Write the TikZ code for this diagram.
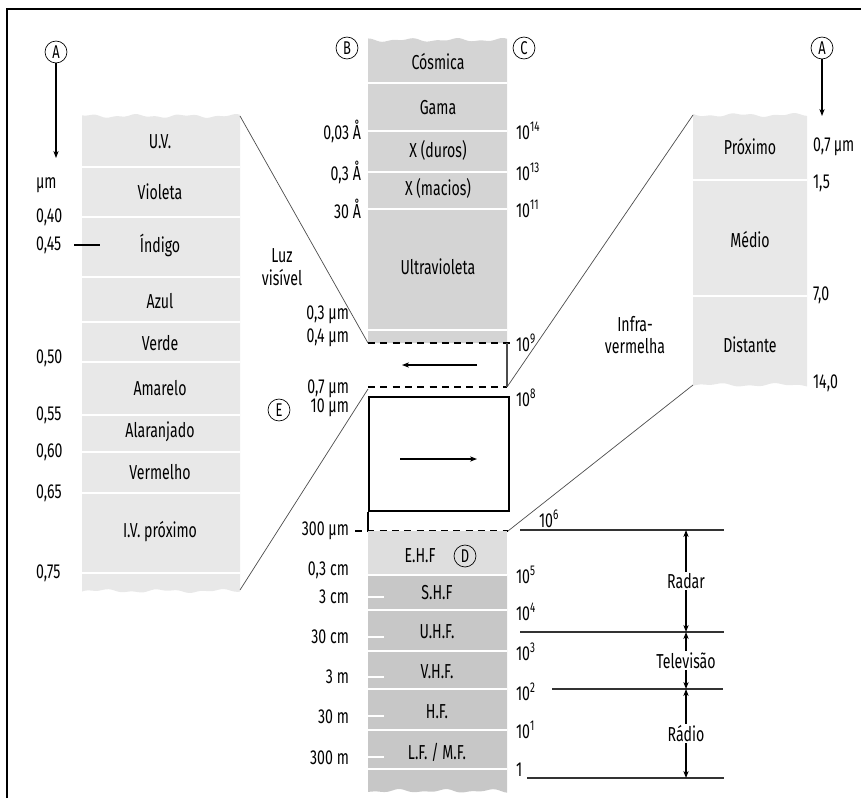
\documentclass[tikz,border=0pt]{standalone}
\usepackage{fontspec}
\setmainfont{Fira Sans}[FakeStretch=0.7]
\usepackage{xcolor}
\usetikzlibrary{arrows.meta,positioning}

\definecolor{visgray}{gray}{0.91}
\definecolor{topgray}{gray}{0.83}
\definecolor{ehfgray}{gray}{0.87}
\definecolor{radgray}{gray}{0.78}

\begin{document}
\begin{tikzpicture}[x=0.02cm, y=-0.02cm,
  lbl/.style={inner sep=1pt, font=\fontsize{11.5}{13}\selectfont},
  letter/.style={draw, circle, minimum size=12.5pt, inner sep=0pt, font=\fontsize{10.5}{11}\selectfont, fill=white},
  sepline/.style={white, line width=1pt},
  guide/.style={gray!60!black, line width=0.4pt},
  dashline/.style={dash pattern=on 4pt off 3pt, line width=0.8pt},
  rule/.style={line width=0.7pt, black!80},
  arrow/.style={-{Stealth[length=4pt, width=3pt]}, line width=0.6pt},
  dblarrow/.style={{Stealth[length=4pt, width=3pt]}-{Stealth[length=4pt, width=3pt]}, line width=0.6pt},
]
\useasboundingbox (0,0) rectangle (861,798);

% frame
\draw[line width=1.2pt] (7,798) -- (7,9) -- (861,9);

% visible light column
\fill[visgray] (82,592) -- plot[domain=82:240, samples=60] (\x,{116+1.2*sin(7.3*\x)+0.8*sin(17.9*\x)})
  -- plot[domain=240:82, samples=60] (\x,{591+1.2*sin(6.1*\x)+0.8*sin(15.7*\x)}) -- cycle;
\foreach \y in {167,217,277,322,362,415,452,493,573}
  \draw[sepline] (82,\y) -- (240,\y);

\node[lbl] (uv) at (160,142) {U.V.};
\node[lbl] (violeta) at (160,192) {Violeta};
\node[lbl] (indigo) at (160,245) {Índigo};
\node[lbl] (azul) at (160,301) {Azul};
\node[lbl] (verde) at (160,343) {Verde};
\node[lbl] (amarelo) at (160,388) {Amarelo};
\node[lbl] (alaranjado) at (160,432) {Alaranjado};
\node[lbl] (vermelho) at (160,472) {Vermelho};
\node[lbl] (ivprox) at (160,532) {I.V. próximo};

\node[lbl, anchor=west] (um) at (34,185) {µm};
\node[lbl, anchor=west] (v40) at (34,217) {0,40};
\node[lbl, anchor=west] (v45) at (34,245) {0,45};
\node[lbl, anchor=west] (v50) at (34,358) {0,50};
\node[lbl, anchor=west] (v55) at (34,415) {0,55};
\node[lbl, anchor=west] (v60) at (34,452) {0,60};
\node[lbl, anchor=west] (v65) at (34,493) {0,65};
\node[lbl, anchor=west] (v75) at (34,573) {0,75};
\coordinate (tick45a) at (74,245);
\coordinate (tick45b) at (100,245);
\draw[line width=0.6pt] (tick45a) -- (tick45b);

\node[letter] (aleft) at (56,52) {A};
\coordinate (aleftend) at (56,158);
\draw[arrow] (aleft) -- (aleftend);

\node[lbl, align=center] (luz) at (282,267) {Luz\\visível};

% upper part of the spectrum
\fill[topgray] (368,343) -- plot[domain=368:507, samples=60] (\x,{40+1.2*sin(7.7*\x)+0.8*sin(16.3*\x)}) -- (507,343) -- cycle;
\foreach \y in {83,131,172,209,330}
  \draw[sepline] (368,\y) -- (507,\y);

\node[lbl] (cosmica) at (438,62) {Cósmica};
\node[lbl] (gama) at (438,108) {Gama};
\node[lbl] (xduros) at (438,150) {X (duros)};
\node[lbl] (xmacios) at (438,188) {X (macios)};
\node[lbl] (ultra) at (438,267) {Ultravioleta};

\node[letter] (b) at (347,48) {B};
\node[letter] (c) at (524,48) {C};

\node[lbl, anchor=east] (a003) at (363,131) {0,03 Å};
\node[lbl, anchor=east] (a03) at (363,172) {0,3 Å};
\node[lbl, anchor=east] (a30) at (363,209) {30 Å};
\node[lbl, anchor=east] (m03) at (351,315) {0,3 µm};
\node[lbl, anchor=east] (m04) at (351,338) {0,4 µm};
\node[lbl, anchor=east] (m07) at (351,389) {0,7 µm};
\node[lbl, anchor=east] (m10) at (351,408) {10 µm};
\node[lbl, anchor=east] (m300) at (351,531) {300 µm};

\node[lbl, anchor=west] (f14) at (514,131) {10\textsuperscript{14}};
\node[lbl, anchor=west] (f13) at (514,172) {10\textsuperscript{13}};
\node[lbl, anchor=west] (f11) at (514,209) {10\textsuperscript{11}};
\node[lbl, anchor=west] (f9) at (514,343) {10\textsuperscript{9}};
\node[lbl, anchor=west] (f8) at (514,398) {10\textsuperscript{8}};
\node[lbl, anchor=west] (f6) at (537,519) {10\textsuperscript{6}};

% visible and infrared window
\coordinate (vistop) at (368,343);
\coordinate (visbot) at (368,387);
\coordinate (visright) at (507,343);
\coordinate (visrbot) at (507,387);
\draw[dashline] (vistop) -- (f9.west);
\draw[dashline] (visbot) -- (visrbot);
\draw[guide, line width=0.6pt] (visright) -- (visrbot);
\coordinate (larrs) at (477,365);
\coordinate (larre) at (402,365);
\draw[arrow] (larrs) -- (larre);

\node[draw, line width=0.9pt, minimum width=140*0.02cm, minimum height=114*0.02cm, inner sep=0pt, anchor=north west] (irbox) at (368,396) {};
\coordinate (radtop) at (368,531);
\coordinate (radright) at (508,531);
\coordinate (dashstart) at (355,531);
\draw[line width=0.7pt] (irbox.south west) -- (radtop);
\coordinate (rarrs) at (400,459);
\coordinate (rarre) at (477,459);
\draw[arrow] (rarrs) -- (rarre);
\draw[dashline] (dashstart) -- (radright);

% infrared column
\fill[visgray] (693,385) -- plot[domain=693:807, samples=50] (\x,{115+1.2*sin(6.7*\x)+0.8*sin(17.1*\x)})
  -- plot[domain=807:693, samples=50] (\x,{385+1.2*sin(5.9*\x)+0.8*sin(14.3*\x)}) -- cycle;
\foreach \y in {180,296}
  \draw[sepline] (693,\y) -- (807,\y);
\node[lbl] (proximo) at (750,147) {Próximo};
\node[lbl] (medio) at (750,240) {Médio};
\node[lbl] (distante) at (750,345) {Distante};

\node[lbl, anchor=west] (i07) at (811,147) {0,7\,µm};
\node[lbl, anchor=west] (i15) at (811,183) {1,5};
\node[lbl, anchor=west] (i70) at (811,295) {7,0};
\node[lbl, anchor=west] (i140) at (811,383) {14,0};

\node[letter] (aright) at (822,48) {A};
\coordinate (arightend) at (822,116);
\draw[arrow] (aright) -- (arightend);

\node[lbl, align=center] (infra) at (635,335) {Infra-\\vermelha};

% zoom guides
\coordinate (visTL) at (240,116);
\coordinate (visBL) at (240,590);
\coordinate (irTL) at (693,115);
\coordinate (irBL) at (693,385);
\draw[guide] (visTL) -- (vistop);
\draw[guide] (visBL) -- (m07.east -| radtop);
\draw[guide] (visrbot) -- (irTL);
\draw[guide] (radright) -- (irBL);

% radio column
\fill[ehfgray] (368,531) rectangle (507,575);
\fill[radgray] (368,575) -- (507,575) -- plot[domain=507:368, samples=60] (\x,{791+1.2*sin(7.9*\x)+0.8*sin(15.1*\x)}) -- cycle;
\foreach \y in {575,610,651,689,730,769}
  \draw[sepline] (368,\y) -- (507,\y);
\foreach \y in {597,637,677,716,757}
  \draw[white, line width=0.8pt] (368,\y) -- (384,\y);

\node[lbl] (ehf) at (420,556) {E.H.F};
\node[letter, fill=none] (d) at (465,556) {D};
\node[lbl] (shf) at (437,593) {S.H.F};
\node[lbl] (uhf) at (437,632) {U.H.F.};
\node[lbl] (vhf) at (437,672) {V.H.F.};
\node[lbl] (hf) at (437,712) {H.F.};
\node[lbl] (lfmf) at (437,752) {L.F. / M.F.};

\node[letter] (e) at (279,410) {E};

\node[lbl, anchor=east] (c03) at (351,570) {0,3 cm};
\node[lbl, anchor=east] (c3) at (351,597) {3 cm};
\node[lbl, anchor=east] (c30) at (351,637) {30 cm};
\node[lbl, anchor=east] (r3) at (351,677) {3 m};
\node[lbl, anchor=east] (r30) at (351,717) {30 m};
\node[lbl, anchor=east] (r300) at (351,758) {300 m};

\node[lbl, anchor=west] (f5) at (514,575) {10\textsuperscript{5}};
\node[lbl, anchor=west] (f4) at (514,612) {10\textsuperscript{4}};
\node[lbl, anchor=west] (f3) at (514,652) {10\textsuperscript{3}};
\node[lbl, anchor=west] (f2) at (514,692) {10\textsuperscript{2}};
\node[lbl, anchor=west] (f1) at (514,730) {10\textsuperscript{1}};
\node[lbl, anchor=west] (f0) at (514,770) {1};

% bands of use
\coordinate (h6l) at (520,530);   \coordinate (h6r) at (724,530);
\coordinate (h3l) at (520,632);   \coordinate (h3r) at (724,632);
\coordinate (h2l) at (552,689);   \coordinate (h2r) at (723,689);
\coordinate (h0l) at (527,778);   \coordinate (h0r) at (724,778);
\draw[rule] (h6l) -- (h6r);
\draw[rule] (h3l) -- (h3r);
\draw[rule] (h2l) -- (h2r);
\draw[rule] (h0l) -- (h0r);

\coordinate (u6) at (686,530);
\coordinate (u3) at (686,632);
\coordinate (u2) at (686,689);
\coordinate (u0) at (686,778);
\draw[dblarrow] (u6) -- node[lbl, fill=white] (radar) {Radar} (u3);
\draw[dblarrow] (u3) -- node[lbl, fill=white] (tv) {Televisão} (u2);
\draw[dblarrow] (u2) -- node[lbl, fill=white] (radio) {Rádio} (u0);

\end{tikzpicture}
\end{document}
